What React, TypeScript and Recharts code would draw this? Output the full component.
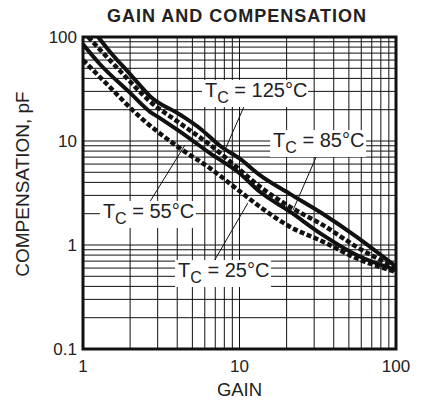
import React from "react";
import {
  LineChart,
  Line,
  XAxis,
  YAxis,
  ReferenceLine,
  ReferenceArea,
  ReferenceDot,
} from "recharts";

// log-log
const gain125 = [1.25, 1.5, 2, 2.7, 4.2, 5.6, 7.5, 10, 13.5, 21, 34, 56, 100];
const comp125 = [100, 71, 44, 26.7, 17.8, 13.2, 9.0, 6.8, 4.7, 3.1, 2.0, 1.2, 0.62];

const gain85 = [1.08, 1.72, 2.68, 4.17, 6.5, 9.6, 13.5, 21, 34, 56, 100];
const comp85 = [100, 47.4, 24, 14.8, 9.15, 5.6, 3.64, 2.33, 1.56, 0.96, 0.6];

const gain55 = [1, 1.28, 2, 2.68, 3.1, 4.17, 6.5, 10, 13.5, 21, 34, 56, 100];
const comp55 = [85, 55, 29, 19.1, 16.6, 12.3, 7.6, 4.9, 3.25, 2.09, 1.25, 0.8, 0.575];

const gain25 = [1, 1.42, 2.2, 4.17, 6.5, 10, 13.5, 21, 34, 56, 100];
const comp25 = [60, 35.3, 18.2, 8.5, 5.46, 3.3, 2.33, 1.5, 1.08, 0.745, 0.55];

const xTicks = [1, 10, 100];
const yTicks = [0.1, 1, 10, 100];
const gridGains = [2, 3, 4, 5, 6, 7, 8, 9, 10, 20, 30, 40, 50, 60, 70, 80, 90];
const gridComps = [
  0.2, 0.3, 0.4, 0.5, 0.6, 0.7, 0.8, 0.9, 1, 2, 3, 4, 5, 6, 7, 8, 9, 10, 20, 30,
  40, 50, 60, 70, 80, 90,
];

// label anchor (baseline left of "T") and leader line ends, in data units
const labelTemps = ["125°C", "85°C", "55°C", "25°C"];
const labelAt = [
  [6.02, 26.5],
  [16.4, 8.75],
  [1.34, 1.82],
  [4.05, 0.492],
];
const leaderFrom = [
  [10.8, 22.2],
  [31.7, 7.67],
  [2.6, 2.43],
  [6.77, 0.671],
];
const leaderTo = [
  [7.96, 7.83],
  [22.0, 2.17],
  [4.48, 9.15],
  [11.3, 2.53],
];

const toRows = (gains: number[], comps: number[]) =>
  gains.map((g, i) => ({ gain: g, comp: comps[i] }));

const curves = [
  { key: "125", data: toRows(gain125, comp125), dashed: false },
  { key: "85", data: toRows(gain85, comp85), dashed: true },
  { key: "55", data: toRows(gain55, comp55), dashed: false },
  { key: "25", data: toRows(gain25, comp25), dashed: true },
];

const FONT = "'Liberation Sans', Arial, Helvetica, sans-serif";

function TempLabel(props: any) {
  const { cx, cy, temp } = props;
  const w = temp.length > 4 ? 106 : 96;
  return (
    <g>
      <rect x={cx - 3} y={cy - 17} width={w} height={27} fill="#fff" />
      <text x={cx} y={cy} fontSize={20} fontFamily={FONT} fill="#222">
        T
        <tspan fontSize={16} dy={6}>
          C
        </tspan>
        <tspan dy={-6}>{" = " + temp}</tspan>
      </text>
    </g>
  );
}

export default function App() {
  const tickStyle = { fontSize: 17, fontFamily: FONT, fill: "#222" };
  return (
    <div style={{ position: "absolute", left: 0, top: 0, width: 423, height: 405, background: "#fff" }}>
      <LineChart
        width={423}
        height={405}
        margin={{ top: 37, right: 27, left: 23, bottom: 26 }}
      >
        <XAxis
          type="number"
          dataKey="gain"
          scale="log"
          domain={[1, 100]}
          ticks={xTicks}
          allowDataOverflow
          axisLine={false}
          tickLine={false}
          tickSize={0}
          tickMargin={11}
          height={30}
          tick={tickStyle}
        />
        <YAxis
          type="number"
          dataKey="comp"
          scale="log"
          domain={[0.1, 100]}
          ticks={yTicks}
          allowDataOverflow
          axisLine={false}
          tickLine={false}
          tickSize={0}
          tickMargin={6}
          width={60}
          tick={tickStyle}
          tickFormatter={(v: number) => String(v)}
        />
        {gridGains.map((g) => (
          <ReferenceLine key={"gx" + g} x={g} stroke="#111" strokeWidth={1} />
        ))}
        {gridComps.map((c) => (
          <ReferenceLine key={"gy" + c} y={c} stroke="#111" strokeWidth={1} />
        ))}
        {labelTemps.map((t, i) => (
          <ReferenceDot
            key={"lb" + t}
            x={labelAt[i][0]}
            y={labelAt[i][1]}
            r={0}
            shape={(p: any) => <TempLabel cx={p.cx} cy={p.cy} temp={t} />}
          />
        ))}
        {labelTemps.map((t, i) => (
          <ReferenceLine
            key={"ld" + t}
            segment={[
              { x: leaderFrom[i][0], y: leaderFrom[i][1] },
              { x: leaderTo[i][0], y: leaderTo[i][1] },
            ]}
            stroke="#111"
            strokeWidth={1}
          />
        ))}
        {curves.map((c) => (
          <Line
            key={c.key}
            data={c.data}
            dataKey="comp"
            type="monotone"
            stroke="#111"
            strokeWidth={c.dashed ? 4.5 : 4}
            strokeDasharray={c.dashed ? "5 2.5" : undefined}
            dot={false}
            activeDot={false}
            isAnimationActive={false}
          />
        ))}
        <ReferenceArea
          x1={1}
          x2={100}
          y1={0.1}
          y2={100}
          fill="none"
          stroke="#111"
          strokeWidth={3}
        />
      </LineChart>
      <svg
        width={423}
        height={405}
        style={{ position: "absolute", left: 0, top: 0, pointerEvents: "none" }}
      >
        <text x={237} y={22} textAnchor="middle" fontSize={18} fontWeight="bold" letterSpacing={1} fontFamily={FONT} fill="#222">
          GAIN AND COMPENSATION
        </text>
        <text x={239.5} y={396} textAnchor="middle" fontSize={18.5} fontFamily={FONT} fill="#222">
          GAIN
        </text>
        <text
          x={29}
          y={184}
          textAnchor="middle"
          fontSize={19}
          fontFamily={FONT}
          fill="#222"
          transform="rotate(-90 29 184)"
        >
          COMPENSATION, pF
        </text>
      </svg>
    </div>
  );
}
